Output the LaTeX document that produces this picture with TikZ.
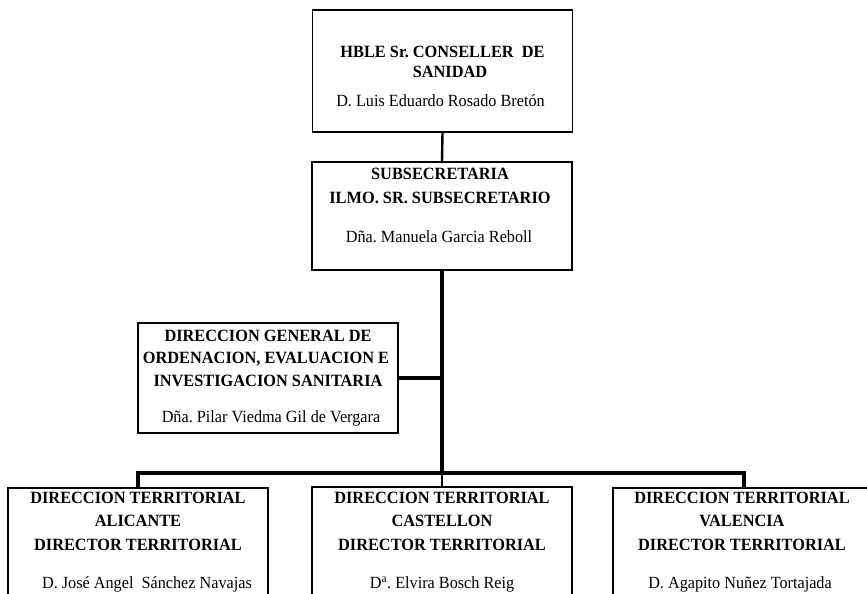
\documentclass[tikz,border=0pt]{standalone}
\usepackage{fontspec}
\setmainfont{Liberation Serif}
\newfontfamily\chartfont[FakeStretch=0.95]{Liberation Serif}
\frenchspacing
\begin{document}
\begin{tikzpicture}[x=0.75pt,y=-0.75pt,
  orgbox/.style={draw=black,line width=1.4pt,fill=white,inner sep=0pt,
                 minimum width=260*0.75pt},
  ttl/.style={anchor=base,inner sep=0pt,
              font=\chartfont\bfseries\fontsize{12.9}{15}\selectfont},
  nm/.style={anchor=base,inner sep=0pt,
             font=\chartfont\fontsize{12.8}{15}\selectfont},
  thinlink/.style={line width=1.8pt},
  midlink/.style={line width=2.5pt},
  thicklink/.style={line width=3.6pt}]
\useasboundingbox (0,0) rectangle (867,593);
\clip (0,0) rectangle (867,593);

% boxes
\node[orgbox,minimum height=122*0.75pt] (conseller) at (442.5,71) {};
\node[orgbox,minimum height=108*0.75pt] (subsec) at (442,216) {};
\node[orgbox,minimum height=110*0.75pt] (dg) at (268,378) {};
\node[orgbox,minimum height=140*0.75pt] (ali) at (138,558) {};
\node[orgbox,minimum height=140*0.75pt] (cas) at (442,557) {};
\node[orgbox,minimum width=262*0.75pt,minimum height=140*0.75pt] (val) at (744,558) {};

% junctions of the trunk
\coordinate (dgjoin) at (442,378);
\coordinate (barjoin) at (442,473);
\coordinate (barleft) at (138,473);
\coordinate (barright) at (744,473);

% connectors
\draw[thinlink] (conseller.south) -- (subsec.north);
\draw[thicklink] (subsec.south) -- (barjoin);
\draw[midlink] (dg.east) -- (dgjoin);
\draw[thicklink,line cap=rect] (barleft) -- (barright);
\draw[midlink] (barleft) -- (ali.north);
\draw[thinlink] (barjoin) -- (cas.north);
\draw[midlink] (barright) -- (val.north);

% conseller
\node[ttl] (c1) at (442.5,57) {HBLE Sr. CONSELLER\ \ DE};
\node[ttl] (c2) at (450,77) {SANIDAD};
\node[nm]  (c3) at (440.5,106) {D. Luis Eduardo Rosado Bretón};

% subsecretaria
\node[ttl] (s1) at (440,179) {SUBSECRETARIA};
\node[ttl] (s2) at (440,203) {ILMO. SR. SUBSECRETARIO};
\node[nm]  (s3) at (439,242) {Dña. Manuela Garcia Reboll};

% direccion general
\node[ttl] (d1) at (268,341) {DIRECCION GENERAL DE};
\node[ttl] (d2) at (266,363) {ORDENACION, EVALUACION E};
\node[ttl] (d3) at (268,386) {INVESTIGACION SANITARIA};
\node[nm]  (d4) at (271,422) {Dña. Pilar Viedma Gil de Vergara};

% alicante
\node[ttl] (a1) at (138,503) {DIRECCION TERRITORIAL};
\node[ttl] (a2) at (138,526) {ALICANTE};
\node[ttl] (a3) at (138,550) {DIRECTOR TERRITORIAL};
\node[nm]  (a4) at (147,588) {D. José Angel\ \ Sánchez Navajas};

% castellon
\node[ttl] (k1) at (442,503) {DIRECCION TERRITORIAL};
\node[ttl] (k2) at (442,526) {CASTELLON};
\node[ttl] (k3) at (442,550) {DIRECTOR TERRITORIAL};
\node[nm]  (k4) at (442,588) {D\textsuperscript{a}. Elvira Bosch Reig};

% valencia
\node[ttl] (v1) at (742,503) {DIRECCION TERRITORIAL};
\node[ttl] (v2) at (742,526) {VALENCIA};
\node[ttl] (v3) at (742,550) {DIRECTOR TERRITORIAL};
\node[nm]  (v4) at (740,588) {D. Agapito Nuñez Tortajada};
\end{tikzpicture}
\end{document}
